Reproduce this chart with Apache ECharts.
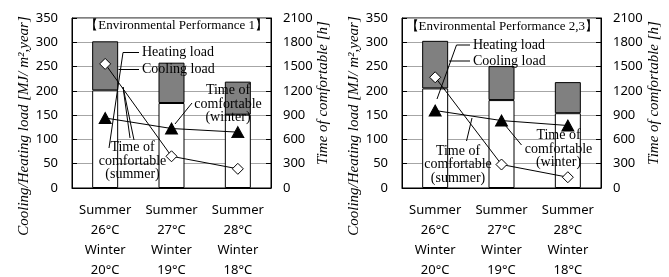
<!DOCTYPE html>
<html>
<head>
<meta charset="utf-8">
<script src="https://cdn.jsdelivr.net/npm/echarts@6/dist/echarts.min.js"></script>
<style>
  html, body { margin: 0; padding: 0; background: #fff; }
  #main { width: 669px; height: 277px; }
</style>
</head>
<body>
<div id="main"></div>
<script>
// categories (x axis)
const categories = ['Summer\n26°C\nWinter\n20°C', 'Summer\n27°C\nWinter\n19°C', 'Summer\n28°C\nWinter\n18°C'];

// Environmental Performance 1
const heating1 = [201, 175, 151];
const cooling1 = [101, 83, 68];
const summer1 = [1533, 392, 237];
const winter1 = [865, 735, 690];

// Environmental Performance 2,3
const heating2 = [205, 181, 154];
const cooling2 = [98, 70, 64];
const summer2 = [1368, 290, 133];
const winter2 = [957, 833, 772];

// axis ranges
const loadMax = 350, loadStep = 50;
const timeMax = 2100, timeStep = 300;

const sans = 'Noto Sans';
const serif = 'Liberation Serif';

const chart = echarts.init(document.getElementById('main'));

const grids = [], xAxes = [], yAxes = [], series = [];

// 一つのパネル（棒 + 折れ線）を作る
const addPanel = (i, left, heating, cooling, summer, winter) => {
  grids.push({
    left: left, top: 18, width: 199, height: 170, outerBoundsMode: 'none', containLabel: false,
    show: true, borderColor: '#000', borderWidth: 1, backgroundColor: 'transparent'
  });
  xAxes.push({
    type: 'category', gridIndex: i, data: categories,
    axisLine: { lineStyle: { color: '#000', width: 1 } },
    axisTick: { inside: true, length: 5, lineStyle: { color: '#000' } },
    axisLabel: { interval: 0, margin: 12, lineHeight: 20, fontSize: 13, fontFamily: sans, color: '#000' },
    splitLine: { show: false }
  });
  yAxes.push({
    type: 'value', gridIndex: i, min: 0, max: loadMax, interval: loadStep, position: 'left',
    axisLine: { show: true, lineStyle: { color: '#000', width: 1 } },
    axisTick: { show: true, inside: true, length: 5, lineStyle: { color: '#000' } },
    axisLabel: { margin: 14, fontSize: 13, fontFamily: sans, color: '#000' },
    splitLine: { show: true, lineStyle: { color: '#a6a6a6', width: 1 } }
  });
  yAxes.push({
    type: 'value', gridIndex: i, min: 0, max: timeMax, interval: timeStep, position: 'right',
    axisLine: { show: true, lineStyle: { color: '#000', width: 1 } },
    axisTick: { show: true, inside: true, length: 5, lineStyle: { color: '#000' } },
    axisLabel: { margin: 12, fontSize: 13, fontFamily: sans, color: '#000', formatter: v => String(v) },
    splitLine: { show: false }
  });
  series.push({
    name: 'Heating load', type: 'bar', stack: 'load' + i, xAxisIndex: i, yAxisIndex: 2 * i,
    data: heating, barWidth: 26, silent: true,
    itemStyle: { color: '#fff', borderColor: '#000', borderWidth: 1 }
  });
  series.push({
    name: 'Cooling load', type: 'bar', stack: 'load' + i, xAxisIndex: i, yAxisIndex: 2 * i,
    data: cooling, barWidth: 26, silent: true,
    itemStyle: { color: '#808080', borderColor: '#000', borderWidth: 1 }
  });
  series.push({
    name: 'Time of comfortable (winter)', type: 'line', xAxisIndex: i, yAxisIndex: 2 * i + 1,
    data: winter, symbol: 'triangle', symbolSize: [12, 11], silent: true,
    lineStyle: { color: '#000', width: 1 },
    itemStyle: { color: '#000', borderColor: '#000' }
  });
  series.push({
    name: 'Time of comfortable (summer)', type: 'line', xAxisIndex: i, yAxisIndex: 2 * i + 1,
    data: summer, symbol: 'diamond', symbolSize: 11, silent: true,
    lineStyle: { color: '#000', width: 1 },
    itemStyle: { color: '#fff', borderColor: '#000', borderWidth: 1 }
  });
};

addPanel(0, 72, heating1, cooling1, summer1, winter1);
addPanel(1, 402, heating2, cooling2, summer2, winter2);

// 注釈（テキストと引き出し線）
const txt = (x, y, s, o = {}) => ({
  type: 'text', x: x, y: y, rotation: o.rot || 0, silent: true, z: 100,
  style: {
    text: s, fill: '#000', font: (o.italic ? 'italic ' : '') + (o.size || 14) + 'px "' + serif + '"',
    textAlign: o.align || 'left', textVerticalAlign: 'middle', lineHeight: o.lh || 13.5
  }
});
const seg = (x1, y1, x2, y2) => ({
  type: 'line', silent: true, z: 100, shape: { x1: x1, y1: y1, x2: x2, y2: y2 },
  style: { stroke: '#000', lineWidth: 1 }
});

const graphic = [
  // axis names
  txt(24, 126, 'Cooling/Heating load [MJ/ m²,year]', { rot: Math.PI / 2, align: 'center', italic: true, size: 15 }),
  txt(323, 93, 'Time of comfortable [h]', { rot: Math.PI / 2, align: 'center', italic: true, size: 15 }),
  txt(354, 126, 'Cooling/Heating load [MJ/ m²,year]', { rot: Math.PI / 2, align: 'center', italic: true, size: 15 }),
  txt(654, 93, 'Time of comfortable [h]', { rot: Math.PI / 2, align: 'center', italic: true, size: 15 }),

  // panel 1
  txt(268, 26, '【Environmental Performance 1】', { align: 'right', size: 13 }),
  seg(123, 52.5, 139, 52.5), seg(123, 52.5, 109, 148),
  txt(142, 52.5, 'Heating load'),
  seg(118.5, 69.5, 139, 69.5),
  txt(142, 69.5, 'Cooling load'),
  txt(132.5, 161, 'Time of\ncomfortable\n(summer)', { align: 'center' }),
  seg(123, 87, 130, 138), seg(123, 87, 134, 140),
  txt(228, 104, 'Time of\ncomfortable\n(winter)', { align: 'center' }),
  seg(192, 103, 175, 124),

  // panel 2
  txt(598, 27, '【Environmental Performance 2,3】', { align: 'right', size: 13 }),
  seg(456.5, 45, 470, 45), seg(456.5, 45, 437, 99),
  txt(473, 45, 'Heating load'),
  seg(449, 61, 470, 61),
  txt(473, 61, 'Cooling load'),
  txt(458, 164.5, 'Time of\ncomfortable\n(summer)', { align: 'center' }),
  seg(466.5, 141, 472, 118),
  txt(558.5, 149, 'Time of\ncomfortable\n(winter)', { align: 'center' }),
  seg(521.5, 145, 505, 125)
];

chart.setOption({
  animation: false,
  backgroundColor: '#fff',
  grid: grids,
  xAxis: xAxes,
  yAxis: yAxes,
  series: series,
  graphic: graphic
});
</script>
</body>
</html>
